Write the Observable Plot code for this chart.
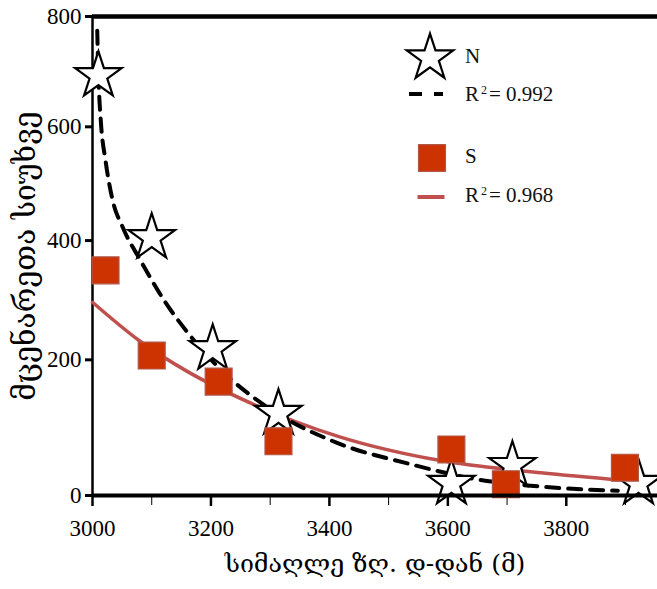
<!DOCTYPE html>
<html>
<head>
<meta charset="utf-8">
<script src="https://cdn.jsdelivr.net/npm/d3@7"></script>
<script src="https://cdn.jsdelivr.net/npm/@observablehq/plot@0.6"></script>
<style>
  html, body { margin: 0; padding: 0; background: #fff; }
  #wrap { position: relative; width: 657px; height: 589px; }
  .leg { position: absolute; font-family: "Liberation Serif", serif; font-size: 21px; color: #111; line-height: 1; white-space: nowrap; }
  .leg sup { font-size: 12px; vertical-align: 7px; margin: 0 2px 0 2px; }
</style>
</head>
<body>
<div id="wrap"></div>
<script>
// ---- data ----
const nX = [3010, 3100, 3203, 3314, 3606, 3709, 3922];
const nY = [692, 405, 218, 115, 14, 38, 14];
const sX = [3022, 3100, 3213, 3314, 3606, 3698, 3899];
const sY = [349, 207, 165, 73, 61, 13, 35];

// fitted trend lines
const nFitX = [3008, 3010, 3014, 3022, 3034, 3051, 3081, 3123, 3162, 3230, 3287, 3412, 3532, 3644, 3757, 3887];
const nFitY = [774, 692, 611, 540, 470, 423, 366, 295, 243, 172, 130, 71, 41, 20, 10, 5];
const sFitX = [3000, 3078, 3157, 3270, 3416, 3588, 3757, 3897];
const sFitY = [295, 232, 183, 130, 80, 45, 28, 18];

const xMajor = [3000, 3200, 3400, 3600, 3800];
const xMinor = [3100, 3300, 3500, 3700, 3900];
const yTicks = [0, 200, 400, 600, 800];

const legendN = "N", legendS = "S";
const r2N = "0.992", r2S = "0.968";
const xLabel = "სიმაღლე ზღ. დ-დან (მ)";
const yLabel = "მცენარეთა სიუხვე";

// ---- tables ----
const nPts = nX.map((x, i) => ({x, y: nY[i]}));
const sPts = sX.map((x, i) => ({x, y: sY[i]}));
const nFit = nFitX.map((x, i) => ({x, y: nFitY[i]}));
const sFit = sFitX.map((x, i) => ({x, y: sFitY[i]}));

const chart = Plot.plot({
  width: 657,
  height: 589,
  marginLeft: 92,
  marginRight: 0,
  marginTop: 16,
  marginBottom: 94,
  style: {background: "#fff", color: "#000"},
  x: {domain: [3000, 3954], range: [92, 657]},
  y: {type: "pow", exponent: 0.91, domain: [0, 800], range: [495, 16]},
  marks: [
    Plot.ruleY([800], {stroke: "#000", strokeWidth: 4.5}),
    Plot.ruleX([3000], {stroke: "#000", strokeWidth: 2.5}),
    Plot.axisY({ticks: yTicks, tickSize: 7, tickPadding: 4, strokeWidth: 3, fontSize: 23, tickFormat: d => String(d), label: null}),
    Plot.axisX({ticks: xMajor, tickSize: 11, tickPadding: 13, strokeWidth: 2.5, fontSize: 23, tickFormat: d => String(d), label: null}),
    Plot.axisX({ticks: xMinor, tickSize: 10, tickFormat: () => "", strokeWidth: 1, label: null}),
    Plot.line(sFit, {x: "x", y: "y", stroke: "#c0504d", strokeWidth: 3.5, curve: "monotone-x"}),
    Plot.line(nFit, {x: "x", y: "y", stroke: "#000", strokeWidth: 4, strokeDasharray: "13,9", curve: "monotone-x"}),
    Plot.dot(nPts, {x: "x", y: "y", symbol: "star", r: 14.6, fill: "#fff", stroke: "#000", strokeWidth: 2.2}),
    Plot.dot(sPts, {x: "x", y: "y", symbol: "square", r: 15.2, fill: "#cc3300", stroke: "#b0574a", strokeWidth: 1.2}),
    Plot.ruleY([0], {stroke: "#000", strokeWidth: 4}),
    Plot.text([xLabel], {frameAnchor: "bottom", textAnchor: "middle", dy: 76, fontSize: 25, fill: "#000", text: d => d}),
    Plot.text([yLabel], {frameAnchor: "left", textAnchor: "middle", dx: -67, rotate: -90, fontSize: 30, fill: "#000", text: d => d})
  ]
});

// force fonts on every text element (inline style wins)
const geoRe = /[\u10A0-\u10FF]/;
d3.select(chart).selectAll("text").each(function() {
  const t = this.textContent || "";
  this.style.fontFamily = geoRe.test(t) ? "'DejaVu Serif', 'DejaVu Sans', serif" : "'Liberation Serif', serif";
});

const wrap = document.getElementById("wrap");
wrap.appendChild(chart);

// ---- legend (HTML overlay) ----
function addSvg(cx, cy, w, h, inner) {
  const d = document.createElement("div");
  d.style.position = "absolute";
  d.style.left = (cx - w / 2) + "px";
  d.style.top = (cy - h / 2) + "px";
  d.innerHTML = `<svg width="${w}" height="${h}" viewBox="${-w / 2} ${-h / 2} ${w} ${h}" style="display:block">${inner}</svg>`;
  wrap.appendChild(d);
}
function addText(left, top, html) {
  const d = document.createElement("div");
  d.className = "leg";
  d.style.left = left + "px";
  d.style.top = top + "px";
  d.innerHTML = html;
  wrap.appendChild(d);
}
const starPath = d3.symbol(d3.symbolStar, Math.PI * 14.6 * 14.6)();
const sqPath = d3.symbol(d3.symbolSquare, Math.PI * 15.2 * 15.2)();
addSvg(430, 58, 60, 60, `<path d="${starPath}" fill="#fff" stroke="#000" stroke-width="2.2"/>`);
addText(465, 46, legendN);
addSvg(426, 94, 40, 8, `<line x1="-17" x2="17" y1="0" y2="0" stroke="#000" stroke-width="4" stroke-dasharray="13,12"/>`);
addText(465, 84, `R<sup>2</sup>= ${r2N}`);
addSvg(432, 158, 40, 40, `<path d="${sqPath}" fill="#cc3300" stroke="#b0574a" stroke-width="1.2"/>`);
addText(465, 146, legendS);
addSvg(431, 197, 34, 8, `<line x1="-13.5" x2="13.5" y1="0" y2="0" stroke="#c0504d" stroke-width="4"/>`);
addText(465, 185, `R<sup>2</sup>= ${r2S}`);
</script>
</body>
</html>
